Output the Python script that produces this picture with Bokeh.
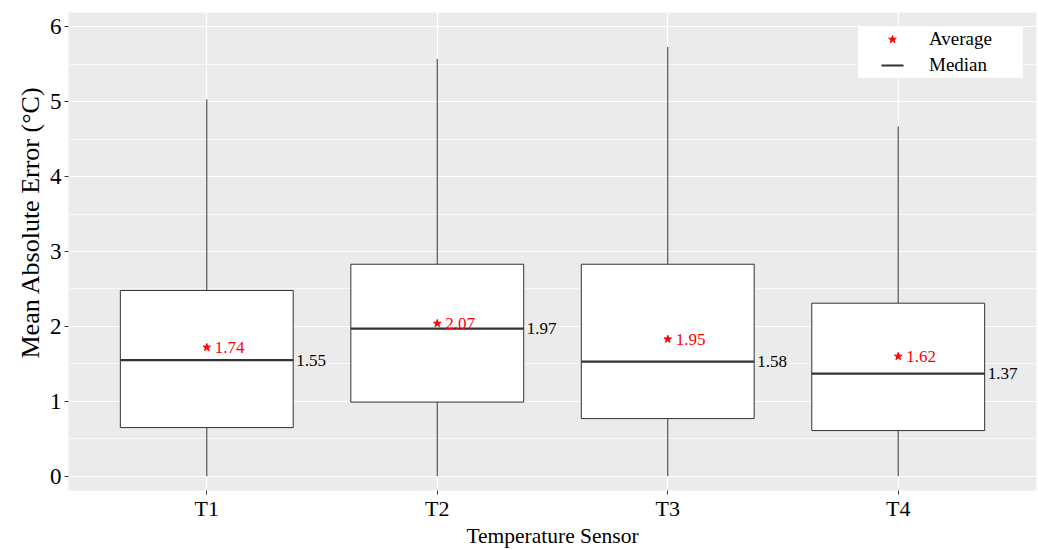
from bokeh.plotting import figure
from bokeh.models import ColumnDataSource, FixedTicker, Legend, LegendItem, Range1d, Title
from bokeh.core.properties import value
from bokeh.embed import file_html
from bokeh.resources import INLINE

sensors = ["T1", "T2", "T3", "T4"]
q1 = [0.65, 0.99, 0.77, 0.61]
q3 = [2.48, 2.83, 2.83, 2.31]
medians = [1.55, 1.97, 1.53, 1.37]
median_labels = ["1.55", "1.97", "1.58", "1.37"]
means = [1.72, 2.04, 1.83, 1.60]
mean_labels = ["1.74", "2.07", "1.95", "1.62"]
whisker_low = [0.0, 0.0, 0.0, 0.0]
whisker_high = [5.03, 5.57, 5.73, 4.67]

FONT = "Liberation Serif"
pos = [i + 1 for i in range(len(sensors))]
bw = 0.75

src = ColumnDataSource(dict(
    x=pos, q1=q1, q3=q3, med=medians, mean=means, lo=whisker_low, hi=whisker_high,
    left=[p - bw / 2 for p in pos], right=[p + bw / 2 for p in pos],
    medlab=median_labels, meanlab=mean_labels,
))

p = figure(width=1038, height=550, output_backend="svg", toolbar_location=None,
           x_range=Range1d(0.4, 4.6), y_range=Range1d(-0.19, 6.19),
           min_border_left=68, min_border_right=2, min_border_top=12, min_border_bottom=60)
p.background_fill_color = "#ebebeb"
p.border_fill_color = "white"
p.outline_line_color = None

# grids
p.xgrid.ticker = FixedTicker(ticks=pos)
p.xgrid.grid_line_color = "white"
p.xgrid.grid_line_width = 1.2
p.ygrid.grid_line_color = "white"
p.ygrid.grid_line_width = 1.2
p.ygrid.minor_grid_line_color = "white"
p.ygrid.minor_grid_line_width = 0.6

# axes
p.xaxis.ticker = FixedTicker(ticks=pos)
p.xaxis.major_label_overrides = {pp: s for pp, s in zip(pos, sensors)}
p.yaxis.ticker = FixedTicker(ticks=[0, 1, 2, 3, 4, 5, 6], minor_ticks=[0.5, 1.5, 2.5, 3.5, 4.5, 5.5])
for ax in (p.xaxis[0], p.yaxis[0]):
    ax.axis_line_color = None
    ax.major_tick_line_color = "#333333"
    ax.major_tick_out = 4
    ax.major_tick_in = 0
    ax.minor_tick_line_color = None
    ax.major_label_text_font = FONT
    ax.major_label_text_color = "black"
    ax.axis_label_text_font = FONT
    ax.axis_label_text_font_style = "normal"
    ax.axis_label_text_color = "black"
p.xaxis.major_label_text_font_size = "22px"
p.yaxis.major_label_text_font_size = "23px"
p.xaxis.axis_label_text_font_size = "21.5px"
p.xaxis.axis_label = "Temperature Sensor"
p.xaxis.major_label_standoff = 1
p.xaxis.axis_label_standoff = 0
p.yaxis.major_label_standoff = 3

ytitle = Title(text="Mean Absolute Error (°C)", align="left", offset=132,
               text_font=FONT, text_font_size="26px", text_font_style="normal",
               text_color="black", standoff=4)
p.add_layout(ytitle, "left")

# whiskers
p.segment(x0="x", y0="q3", x1="x", y1="hi", source=src, line_color="#333333", line_width=1)
p.segment(x0="x", y0="lo", x1="x", y1="q1", source=src, line_color="#333333", line_width=1)
# boxes
p.quad(left="left", right="right", bottom="q1", top="q3", source=src,
       fill_color="white", line_color="#333333", line_width=1)
# median
p.segment(x0="left", y0="med", x1="right", y1="med", source=src, line_color="#333333", line_width=2.2)
# zero-length proxy used only for the legend glyph (centred 22px dash)
med_r = p.segment(x0="x", y0="med", x1="x", y1="med", source=src, line_color="#333333",
                  line_width=2.2, line_dash="0 23 22 23")
# mean star
mean_r = p.scatter(x="x", y="mean", source=src, marker="star", size=8, fill_color="red", line_color="red")

p.text(x="x", y="mean", text="meanlab", source=src, x_offset=8, text_baseline="middle",
       text_color="red", text_font=value(FONT), text_font_size="17px")
p.text(x="right", y="med", text="medlab", source=src, x_offset=3, text_baseline="middle",
       text_color="black", text_font=value(FONT), text_font_size="17px")

legend = Legend(items=[LegendItem(label="Average", renderers=[mean_r]),
                       LegendItem(label="Median", renderers=[med_r])],
                location=(790, 412))
legend.label_text_font = FONT
legend.label_text_font_size = "19px"
legend.label_text_color = "black"
legend.border_line_color = None
legend.background_fill_color = "white"
legend.background_fill_alpha = 1
legend.glyph_width = 68
legend.glyph_height = 20
legend.label_height = 26
legend.label_width = 94
legend.label_standoff = 3
legend.padding = 0
legend.spacing = 0
legend.margin = 0
p.add_layout(legend)

open("out.html", "w").write(file_html(p, INLINE))
